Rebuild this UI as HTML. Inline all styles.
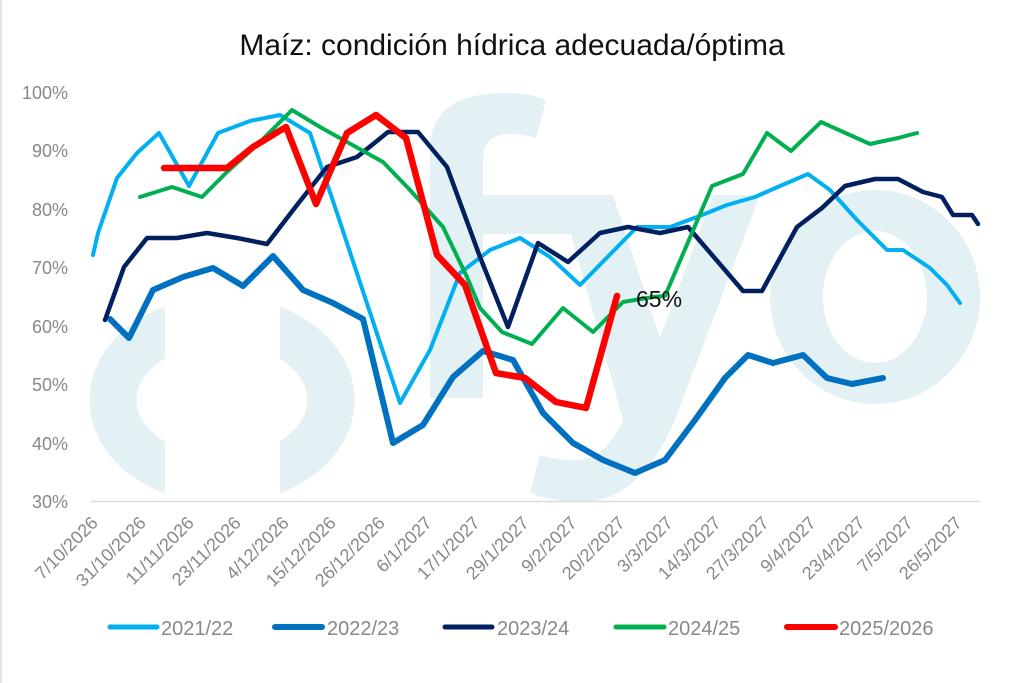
<!DOCTYPE html>
<html><head><meta charset="utf-8"><style>
html,body{margin:0;padding:0;background:#fff;}
svg{display:block;font-family:"Liberation Sans",sans-serif;}
</style></head><body>
<svg width="1024" height="683" viewBox="0 0 1024 683" xmlns="http://www.w3.org/2000/svg">
<rect width="1024" height="683" fill="#fff"/>
<line x1="1" y1="0" x2="1" y2="683" stroke="#e4e4e4" stroke-width="2"/>
<defs>
<clipPath id="cl"><rect x="80" y="280" width="85" height="221"/><rect x="280" y="280" width="90" height="221"/></clipPath>
<clipPath id="plot"><rect x="80" y="80" width="920" height="421"/></clipPath>
</defs>
<g fill="#e3f1f5" clip-path="url(#plot)">
<ellipse cx="222" cy="400" rx="109" ry="80" fill="none" stroke="#e3f1f5" stroke-width="47" clip-path="url(#cl)"/>
<path d="M430 398 V150 Q430 93 505 93 Q530 93 546 100 L536 138 Q522 134 510 134 Q483 134 483 160 V195 H593 V234 H483 V398 Z"/>
<path d="M560 195 H613 L660 338 L713 195 H760 L675 420 Q640 502 580 502 Q555 502 530 493 L540 455 Q555 460 575 460 Q605 460 623 420 Z"/>
<path fill-rule="evenodd" d="M875 190 A105 107 0 1 0 875.1 190 Z M875 231 A52 66 0 1 1 874.9 231 Z"/>
</g>
<text x="512" y="55" text-anchor="middle" font-size="30" fill="#111">Maíz: condición hídrica adecuada/óptima</text>
<g font-size="18" fill="#888" text-anchor="end">
<text x="68" y="99">100%</text><text x="68" y="157">90%</text><text x="68" y="216">80%</text><text x="68" y="274">70%</text><text x="68" y="333">60%</text><text x="68" y="391">50%</text><text x="68" y="450">40%</text><text x="68" y="508">30%</text>
</g>
<line x1="91" y1="501.5" x2="980" y2="501.5" stroke="#ddd" stroke-width="1.5"/>
<g font-size="18" fill="#888" text-anchor="end">
<text transform="translate(99,524) rotate(-45)">7/10/2026</text>
<text transform="translate(147,524) rotate(-45)">31/10/2026</text>
<text transform="translate(195,524) rotate(-45)">11/11/2026</text>
<text transform="translate(242,524) rotate(-45)">23/11/2026</text>
<text transform="translate(290,524) rotate(-45)">4/12/2026</text>
<text transform="translate(337,524) rotate(-45)">15/12/2026</text>
<text transform="translate(386,524) rotate(-45)">26/12/2026</text>
<text transform="translate(433,524) rotate(-45)">6/1/2027</text>
<text transform="translate(481,524) rotate(-45)">17/1/2027</text>
<text transform="translate(530,524) rotate(-45)">29/1/2027</text>
<text transform="translate(578,524) rotate(-45)">9/2/2027</text>
<text transform="translate(626,524) rotate(-45)">20/2/2027</text>
<text transform="translate(674,524) rotate(-45)">3/3/2027</text>
<text transform="translate(722,524) rotate(-45)">14/3/2027</text>
<text transform="translate(770,524) rotate(-45)">27/3/2027</text>
<text transform="translate(817,524) rotate(-45)">9/4/2027</text>
<text transform="translate(866,524) rotate(-45)">23/4/2027</text>
<text transform="translate(914,524) rotate(-45)">7/5/2027</text>
<text transform="translate(963,524) rotate(-45)">26/5/2027</text>
</g>
<g fill="none" stroke-linejoin="round" stroke-linecap="round">
<polyline stroke="#00b0f0" stroke-width="4" points="93,255 98,233 117,178 137,153 159,133 189,186 218,133 250,121 280,115 310,133 337,213 400,403 430,350 460,273 490,250 520,238 550,257 580,285 637,227 670,227 697,217 727,205 755,197 780,186 808,174 830,190 857,220 887,250 903,250 930,268 947,285 960,303"/>
<polyline stroke="#0070c0" stroke-width="6" points="110,319 129,338 153,290 183,277 213,268 243,286 273,256 303,290 333,303 363,319 393,443 423,425 453,377 483,351 513,360 543,413 573,443 603,460 635,473 665,460 695,420 725,378 748,355 773,363 803,355 827,378 852,384 883,378"/>
<polyline stroke="#002060" stroke-width="4.5" points="105,320 124,267 147,238 177,238 207,233 237,238 267,244 297,205 327,167 357,157 388,132 418,132 447,167 480,257 508,327 538,243 568,262 600,233 628,227 660,233 688,227 743,291 762,291 797,227 822,208 845,186 875,179 898,179 923,192 942,197 953,215 972,215 978,224"/>
<polyline stroke="#00b050" stroke-width="4" points="140,197 172,187 202,197 227,172 257,145 292,110 320,127 347,142 383,162 410,190 443,227 467,277 480,308 502,332 532,344 563,308 593,332 623,302 653,297 665,296 712,186 743,174 767,133 791,151 821,122 870,144 898,138 917,133"/>
<polyline stroke="#ff0000" stroke-width="6.5" points="164,168 227,168 253,147 286,127 316,204 347,133 376,115 406,138 437,255 465,285 496,373 525,378 556,402 586,408 617,296"/>
</g>
<text x="636" y="307" font-size="23" fill="#111">65%</text>
<g stroke-width="5" stroke-linecap="round">
<line x1="110" y1="627" x2="157" y2="627" stroke="#00b0f0"/>
<line x1="275" y1="627" x2="322" y2="627" stroke="#0070c0" stroke-width="6"/>
<line x1="445" y1="627" x2="492" y2="627" stroke="#002060"/>
<line x1="616" y1="627" x2="664" y2="627" stroke="#00b050"/>
<line x1="787" y1="627" x2="835" y2="627" stroke="#ff0000" stroke-width="6"/>
</g>
<g font-size="20" fill="#888">
<text x="161" y="635">2021/22</text>
<text x="327" y="635">2022/23</text>
<text x="497" y="635">2023/24</text>
<text x="668" y="635">2024/25</text>
<text x="839" y="635">2025/2026</text>
</g>
</svg>
</body></html>
